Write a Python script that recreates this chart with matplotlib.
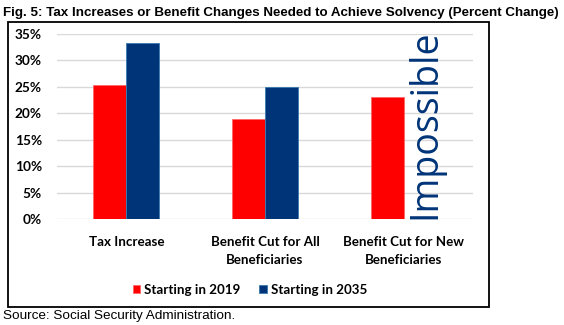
import matplotlib.pyplot as plt
from matplotlib.patches import Rectangle
import numpy as np

categories = ['Tax Increase', 'Benefit Cut for All\nBeneficiaries', 'Benefit Cut for New\nBeneficiaries']
start_2019 = [0.253, 0.19, 0.23]
start_2035 = [0.333, 0.25, None]
series_names = ['Starting in 2019', 'Starting in 2035']
yticks = [0, 0.05, 0.10, 0.15, 0.20, 0.25, 0.30, 0.35]

RED = '#ff0000'
BLUE = '#003478'
LABEL_FONT = ['Lato', 'DejaVu Sans']

W, H = 564, 325
fig = plt.figure(figsize=(W / 100, H / 100), dpi=100)

def fx(px):
    return px / W

def fy(py):
    return 1 - py / H

# frame around the chart body
fig.patches.append(Rectangle((fx(8), fy(307)), fx(489) - fx(8), fy(22) - fy(307),
                             transform=fig.transFigure, fill=False,
                             edgecolor='black', linewidth=1.3))

fig.text(fx(3), fy(13), 'Fig. 5: Tax Increases or Benefit Changes Needed to Achieve Solvency (Percent Change)',
         fontsize=9.6, fontweight='bold', family=['Liberation Sans'],
         va='center', ha='left')
fig.text(fx(3), fy(316), 'Source: Social Security Administration.',
         fontsize=9.7, family=['Liberation Sans'], va='center', ha='left')

ax = fig.add_axes([fx(57), fy(219), fx(473) - fx(57), fy(34) - fy(219)])
x = np.arange(len(categories))
bw = 33 / 139
ax.bar(x - bw / 2, start_2019, width=bw, color=RED, edgecolor='#ff6060',
       linewidth=0.5, label=series_names[0], zorder=3)
blue_x = [xi for xi, v in zip(x, start_2035) if v is not None]
blue_v = [v for v in start_2035 if v is not None]
ax.bar(np.array(blue_x) + bw / 2, blue_v, width=bw, color=BLUE, edgecolor='#3a7ab0',
       linewidth=0.6, label=series_names[1], zorder=3)

# no 2035 bar for new beneficiaries
ax.text(x[2] + bw / 2 + 0.035, 0.18, 'Impossible', rotation=90, ha='center', va='center',
        fontsize=27, color=BLUE, family=['Open Sans', 'DejaVu Sans'])

ax.set_xlim(-0.5, 2.5)
ax.set_ylim(0, 0.35)
ax.set_yticks(yticks)
ax.set_yticklabels([f'{int(round(t * 100))}%' for t in yticks],
                   fontsize=9.8, fontweight='bold', family=LABEL_FONT)
ax.set_xticks(x)
ax.set_xticklabels(categories, fontsize=9.6, fontweight='bold', family=LABEL_FONT,
                   linespacing=1.65, va='top')
ax.tick_params(axis='both', length=0)
ax.tick_params(axis='y', pad=11)
ax.tick_params(axis='x', pad=12)
for s in ax.spines.values():
    s.set_visible(False)
ax.grid(axis='y', color='#d9d9d9', linewidth=1, zorder=0)
ax.set_axisbelow(True)

leg = fig.legend(loc='center', bbox_to_anchor=(fx(250), fy(290)), ncol=2, frameon=False,
                 prop={'family': LABEL_FONT, 'weight': 'bold', 'size': 9.6},
                 handlelength=0.55, handleheight=0.55, handletextpad=0.3, columnspacing=1.4)

fig.savefig('out.png', dpi=100)
